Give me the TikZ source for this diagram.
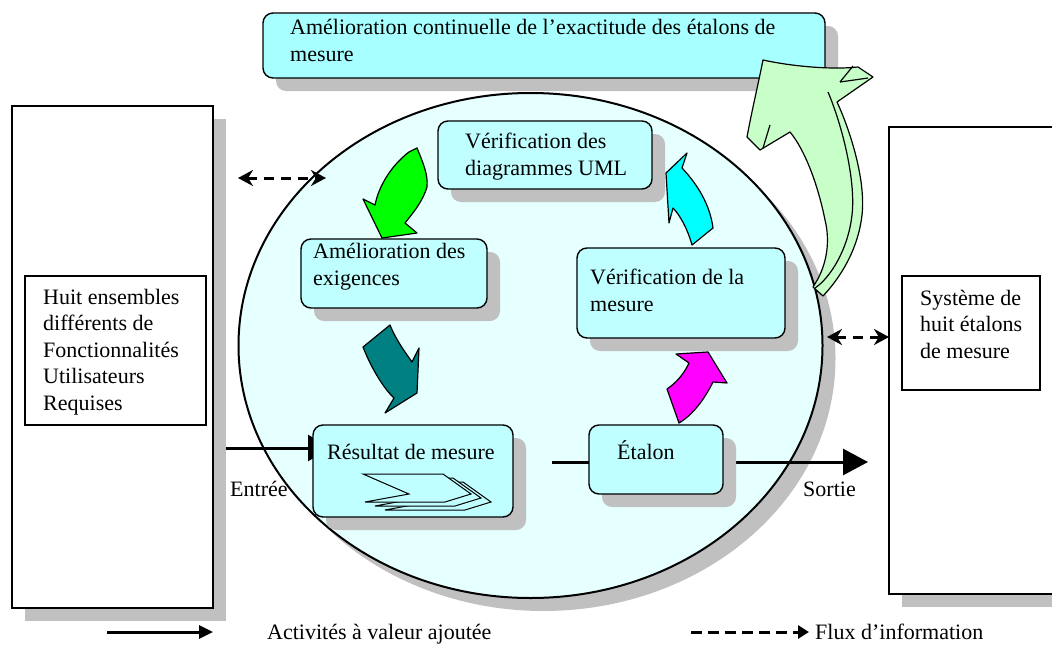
\documentclass[tikz,border=0pt]{standalone}
\usepackage{fontspec}
\setmainfont{Liberation Serif}
\usetikzlibrary{shapes.geometric,shadows,arrows.meta}
\definecolor{ringfill}{RGB}{230,255,255}
\definecolor{boxfill}{RGB}{192,255,255}
\definecolor{topfill}{RGB}{168,255,255}
\definecolor{shade}{RGB}{192,192,192}
\definecolor{palegreen}{RGB}{200,255,200}
\definecolor{tealc}{RGB}{0,128,128}
\definecolor{brightgreen}{RGB}{0,255,0}
\definecolor{brightcyan}{RGB}{0,255,255}
\definecolor{brightmagenta}{RGB}{255,0,255}
\begin{document}
\begin{tikzpicture}[x=1pt,y=-1pt,
  txt/.style={font=\fontsize{22}{26.5}\selectfont, inner sep=0, align=left, anchor=base west},
  legend/.style={font=\fontsize{22}{26}\selectfont, inner sep=0, anchor=base west},
  shd/.style={drop shadow={shadow xshift=13pt, shadow yshift=-13pt, fill=shade, opacity=1}},
  proc/.style={draw, line width=1.4pt, rounded corners=10pt, fill=boxfill, shd, inner sep=0},
  plain/.style={draw, line width=1.2pt, fill=white, inner sep=0},
  flow/.style={line width=3pt},
  info/.style={line width=3pt, dash pattern=on 10pt off 7pt,
    {Stealth[length=15pt,width=16pt]}-{Stealth[length=15pt,width=16pt]}},
  blockarrow/.style={draw, line width=1.2pt, line join=round},
  chev/.style={draw, line width=1pt, fill=boxfill, line join=miter},
]
\useasboundingbox (0,0) rectangle (1052,645);

% central cycle
\node[draw, ellipse, line width=2pt, fill=ringfill, shd, inner sep=0,
      minimum width=584pt, minimum height=505pt] (cycle) at (530.5,345.5) {};

% side boxes (multi-line labels are placed by the baseline of their last line)
\node[plain, shd, minimum width=201pt, minimum height=502pt] (inbox) at (112.5,357) {};
\node[plain, minimum width=181pt, minimum height=149pt] (intext) at (115.5,350.5) {};
\node[txt] (inlabel) at (43,410) {Huit ensembles\\différents de\\Fonctionnalités\\Utilisateurs\\Requises};

\node[plain, shd, minimum width=181pt, minimum height=467pt] (outbox) at (979.5,360.5) {};
\node[plain, minimum width=138pt, minimum height=114pt] (outtext) at (971,333) {};
\node[txt] (outlabel) at (920,358) {Système de\\huit étalons\\de mesure};

% top banner
\node[proc, fill=topfill, minimum width=562pt, minimum height=65pt] (banner) at (544,45.5) {};
\node[txt] (bannerlabel) at (290,61) {Amélioration continuelle de l’exactitude des étalons de\\mesure};

% information flows
\coordinate (li1) at (238,178);
\coordinate (li2) at (326,178);
\draw[info] (li1) -- (li2);
\coordinate (ri1) at (827,337);
\coordinate (ri2) at (889,337);
\draw[info] (ri1) -- (ri2);

% value-added flow
\coordinate (in0) at (226,448);
\coordinate (in1) at (330,448);
\draw[flow, -{Triangle[length=22pt,width=26pt]}] (in0) -- (in1);
\coordinate (mid0) at (552,462);
\coordinate (mid1) at (589,462);
\coordinate (out0) at (723,462);
\coordinate (out1) at (868,462);
\draw[flow] (mid0) -- (mid1);
\draw[flow, -{Triangle[length=25pt,width=26pt]}] (out0) -- (out1);

% process boxes
\node[proc, minimum width=134pt, minimum height=69pt] (etalon) at (656,459.5) {};
\node[txt] (etalonlabel) at (617,459) {Étalon};
\node[proc, minimum width=214pt, minimum height=68pt] (uml) at (545,155) {};
\node[txt] (umllabel) at (465,175) {Vérification des\\diagrammes UML};
\node[proc, minimum width=186pt, minimum height=69pt] (exig) at (394,273.5) {};
\node[txt] (exiglabel) at (313,285) {Amélioration des\\exigences};
\node[proc, minimum width=208pt, minimum height=90pt] (vmes) at (681,293) {};
\node[txt] (vmeslabel) at (590,311) {Vérification de la\\mesure};
\node[proc, minimum width=200pt, minimum height=92pt] (res) at (413,471) {};
\node[txt] (reslabel) at (327,459) {Résultat de mesure};

% stacked chevrons
\foreach \dx/\dy in {20/8,10/4,0/0}
  \draw[chev, shift={(363+\dx,474+\dy)}] (0,0) -- (80,0) -- (108,20) -- (82,28) -- (2,28) -- (46,20) -- cycle;

\node[txt] (entree) at (230,496) {Entrée};
\node[txt] (sortie) at (803,496) {Sortie};

% cycle arrows
\draw[blockarrow, fill=brightgreen] (409,152) -- (417,148) .. controls (424,165) and (428,175) .. (427,187)
  .. controls (422,203) and (412,214) .. (405,223) -- (417,233) -- (382,238) -- (363,199) -- (375,205)
  .. controls (379,185) and (392,165) .. (409,152) -- cycle;
\draw[blockarrow, fill=tealc] (363,347) -- (390,325) .. controls (396,340) and (405,352) .. (412,362)
  -- (419,348) -- (417,393) -- (385,413) -- (394,398) .. controls (385,390) and (372,370) .. (363,347) -- cycle;
\draw[blockarrow, fill=brightmagenta] (676,354) -- (708,352) -- (727,383) -- (713,382)
  .. controls (705,398) and (694,414) .. (679,423) -- (667,389)
  .. controls (676,383) and (684,374) .. (689,363) -- cycle;
\draw[blockarrow, fill=brightcyan] (687,153) -- (682,168) .. controls (698,185) and (710,205) .. (713,228)
  -- (692,245) .. controls (688,230) and (680,215) .. (673,208) -- (669,223) -- (666,173) -- cycle;

% improvement arrow
\draw[blockarrow, fill=palegreen] (763,60) .. controls (790,66) and (830,70) .. (858,67) -- (873,77) -- (837,102)
  .. controls (850,130) and (866,180) .. (862,215) .. controls (858,250) and (840,278) .. (823,296) -- (813,287)
  .. controls (828,265) and (830,240) .. (825,220) .. controls (818,185) and (805,150) .. (790,132)
  -- (760,150) -- (747,137) .. controls (752,110) and (758,85) .. (763,60) -- cycle;
\draw[blockarrow] (770,125) -- (763,148);
\draw[blockarrow] (840,82) -- (868,78);
\draw[blockarrow] (840,82) -- (853,66);
\draw[blockarrow] (828,92) .. controls (842,125) and (856,180) .. (852,215) .. controls (848,250) and (830,278) .. (815,288);

% legend
\coordinate (la0) at (107,632);
\coordinate (la1) at (213,632);
\draw[flow, -{Triangle[length=14pt,width=13pt]}] (la0) -- (la1);
\node[legend] (lat) at (267,639) {Activités à valeur ajoutée};
\coordinate (lb0) at (691,632);
\coordinate (lb1) at (809,632);
\draw[line width=3pt, dash pattern=on 11pt off 6pt, -{Triangle[length=11pt,width=13pt]}] (lb0) -- (lb1);
\node[legend] (lbt) at (815,639) {Flux d’information};
\end{tikzpicture}
\end{document}
